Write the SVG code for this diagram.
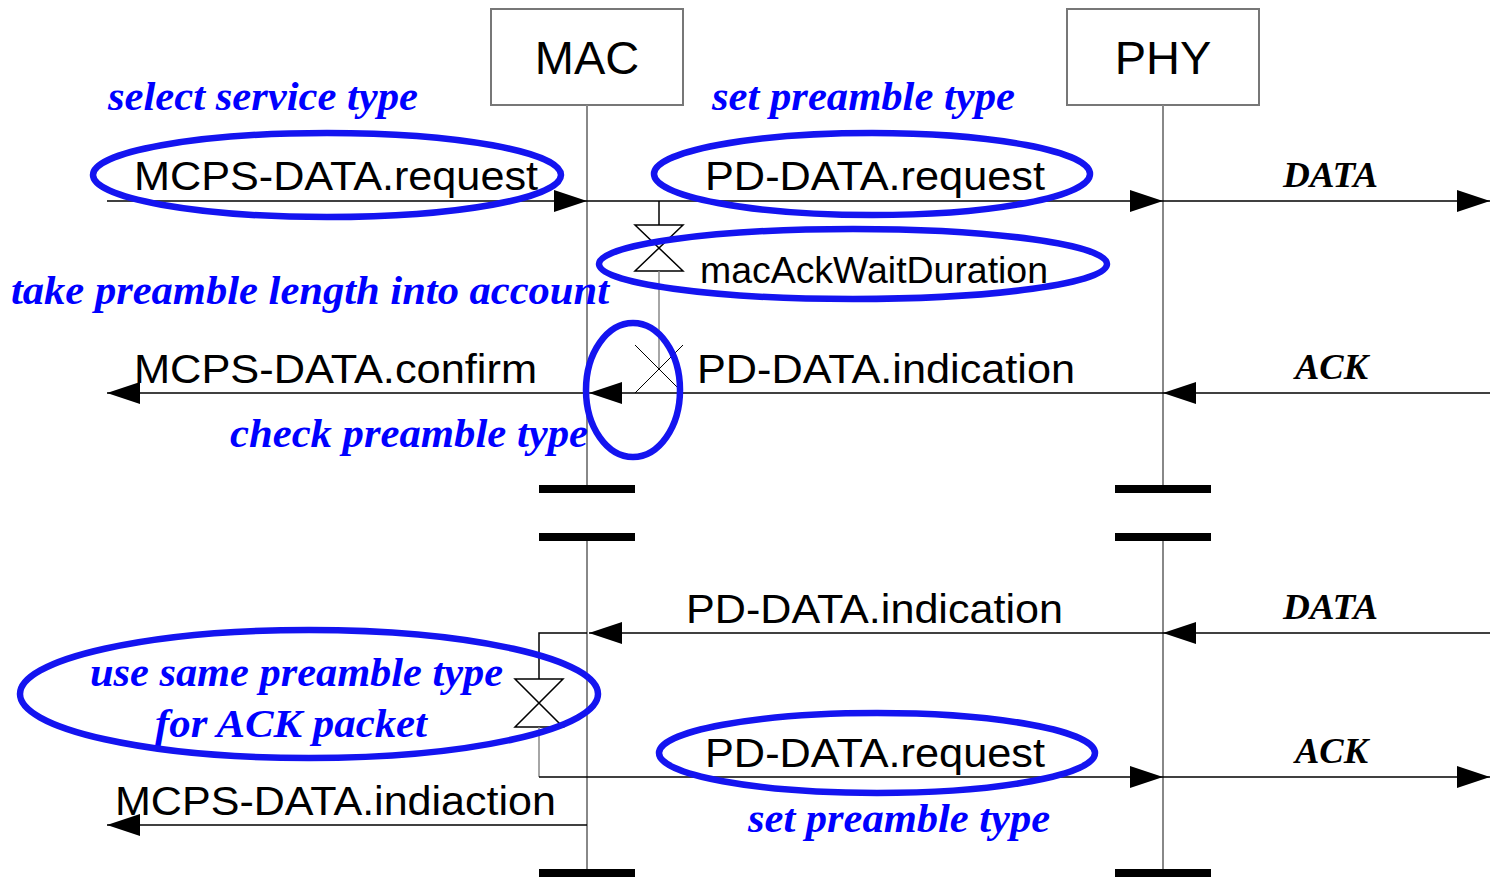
<svg xmlns="http://www.w3.org/2000/svg" width="1490" height="877" viewBox="0 0 1490 877">
<style>
.box{fill:#fff;stroke:#777;stroke-width:2}
.life{stroke:#888;stroke-width:2;fill:none}
.bar{fill:#000}
.msg{stroke:#000;stroke-width:1.3;fill:none}
.tim{stroke:#000;stroke-width:1.5;fill:none}
.lbl{font-family:"Liberation Sans",Arial,sans-serif;font-size:41px;fill:#000}
.ttl{font-family:"Liberation Sans",Arial,sans-serif;font-size:47px;fill:#000;text-anchor:middle}
.sig{font-family:"Liberation Serif","Times New Roman",serif;font-weight:bold;font-style:italic;font-size:36px;fill:#000}
.note{font-family:"Liberation Serif","Times New Roman",serif;font-weight:bold;font-style:italic;font-size:40px;fill:#0000ff}
.ell{fill:none;stroke:#1414f0;stroke-width:6.5}
</style>
<defs>
<marker id="ah" markerUnits="userSpaceOnUse" markerWidth="34" markerHeight="22" refX="33" refY="11" orient="auto">
<path d="M0,0 L33,11 L0,22 Z" fill="#000"/>
</marker>
</defs>
<g id="mac">
<rect class="box" x="491" y="9" width="192" height="96"/>
<text class="ttl" x="587" y="74">MAC</text>
<line class="life" x1="587" y1="105" x2="587" y2="485"/>
<line class="life" x1="587" y1="541" x2="587" y2="869"/>
<rect class="bar" x="539" y="485" width="96" height="8"/>
<rect class="bar" x="539" y="533" width="96" height="8"/>
<rect class="bar" x="539" y="869" width="96" height="8"/>
</g>
<g id="phy">
<rect class="box" x="1067" y="9" width="192" height="96"/>
<text class="ttl" x="1163" y="74">PHY</text>
<line class="life" x1="1163" y1="105" x2="1163" y2="485"/>
<line class="life" x1="1163" y1="541" x2="1163" y2="869"/>
<rect class="bar" x="1115" y="485" width="96" height="8"/>
<rect class="bar" x="1115" y="533" width="96" height="8"/>
<rect class="bar" x="1115" y="869" width="96" height="8"/>
</g>
<g id="timer1">
<line class="tim" x1="659" y1="201" x2="659" y2="225"/>
<path class="tim" d="M635,225 H683 L635,271 H683 Z"/>
<line class="life" x1="659" y1="271" x2="659" y2="369" style="stroke-width:1.5"/>
<line class="tim" x1="635" y1="345" x2="683" y2="393" style="stroke-width:1"/>
<line class="tim" x1="683" y1="345" x2="635" y2="393" style="stroke-width:1"/>
</g>
<g id="timer2">
<path class="tim" d="M587,633 H539 V679"/>
<path class="tim" d="M515,679 H563 L515,727 H563 Z"/>
<line class="life" x1="539" y1="727" x2="539" y2="777" style="stroke-width:1.5"/>
</g>
<g id="connectors">
<line class="msg" x1="107" y1="201" x2="587" y2="201" marker-end="url(#ah)"/>
<line class="msg" x1="587" y1="201" x2="1163" y2="201" marker-end="url(#ah)"/>
<line class="msg" x1="1163" y1="201" x2="1490" y2="201" marker-end="url(#ah)"/>
<line class="msg" x1="1490" y1="393" x2="1163" y2="393" marker-end="url(#ah)"/>
<line class="msg" x1="1163" y1="393" x2="589" y2="393" marker-end="url(#ah)"/>
<line class="msg" x1="587" y1="393" x2="107" y2="393" marker-end="url(#ah)"/>
<line class="msg" x1="1490" y1="633" x2="1163" y2="633" marker-end="url(#ah)"/>
<line class="msg" x1="1163" y1="633" x2="589" y2="633" marker-end="url(#ah)"/>
<line class="msg" x1="539" y1="777" x2="1163" y2="777" marker-end="url(#ah)"/>
<line class="msg" x1="1163" y1="777" x2="1490" y2="777" marker-end="url(#ah)"/>
<line class="msg" x1="587" y1="825" x2="107" y2="825" marker-end="url(#ah)"/>
</g>
<g id="labels">
<text class="lbl" x="134" y="190" textLength="404" lengthAdjust="spacingAndGlyphs">MCPS-DATA.request</text>
<text class="lbl" x="705" y="190" textLength="340" lengthAdjust="spacingAndGlyphs">PD-DATA.request</text>
<text class="lbl" x="700" y="283" style="font-size:37px" textLength="348" lengthAdjust="spacingAndGlyphs">macAckWaitDuration</text>
<text class="lbl" x="134" y="383" textLength="403" lengthAdjust="spacingAndGlyphs">MCPS-DATA.confirm</text>
<text class="lbl" x="697" y="383" textLength="378" lengthAdjust="spacingAndGlyphs">PD-DATA.indication</text>
<text class="lbl" x="686" y="623" textLength="377" lengthAdjust="spacingAndGlyphs">PD-DATA.indication</text>
<text class="lbl" x="705" y="767" textLength="340" lengthAdjust="spacingAndGlyphs">PD-DATA.request</text>
<text class="lbl" x="115" y="815" textLength="441" lengthAdjust="spacingAndGlyphs">MCPS-DATA.indiaction</text>
<text class="sig" x="1283" y="187" textLength="95" lengthAdjust="spacingAndGlyphs">DATA</text>
<text class="sig" x="1295" y="379" textLength="73" lengthAdjust="spacingAndGlyphs">ACK</text>
<text class="sig" x="1283" y="619" textLength="95" lengthAdjust="spacingAndGlyphs">DATA</text>
<text class="sig" x="1295" y="763" textLength="73" lengthAdjust="spacingAndGlyphs">ACK</text>
</g>
<g id="notes">
<text class="note" x="108" y="110" textLength="310" lengthAdjust="spacingAndGlyphs">select service type</text>
<text class="note" x="712" y="110" textLength="303" lengthAdjust="spacingAndGlyphs">set preamble type</text>
<text class="note" x="11" y="304" textLength="598" lengthAdjust="spacingAndGlyphs">take preamble length into account</text>
<text class="note" x="230" y="447" textLength="358" lengthAdjust="spacingAndGlyphs">check preamble type</text>
<text class="note" x="90" y="686" textLength="413" lengthAdjust="spacingAndGlyphs">use same preamble type</text>
<text class="note" x="155" y="737" textLength="272" lengthAdjust="spacingAndGlyphs">for ACK packet</text>
<text class="note" x="748" y="832" textLength="302" lengthAdjust="spacingAndGlyphs">set preamble type</text>
</g>
<g id="highlights">
<ellipse class="ell" cx="327" cy="175" rx="234" ry="42"/>
<ellipse class="ell" cx="872" cy="174" rx="218" ry="41"/>
<ellipse class="ell" cx="853" cy="264" rx="254" ry="35"/>
<ellipse class="ell" cx="633" cy="390" rx="47" ry="67"/>
<ellipse class="ell" cx="309" cy="694" rx="289" ry="64"/>
<ellipse class="ell" cx="877" cy="753" rx="218" ry="40"/>
</g>
</svg>
